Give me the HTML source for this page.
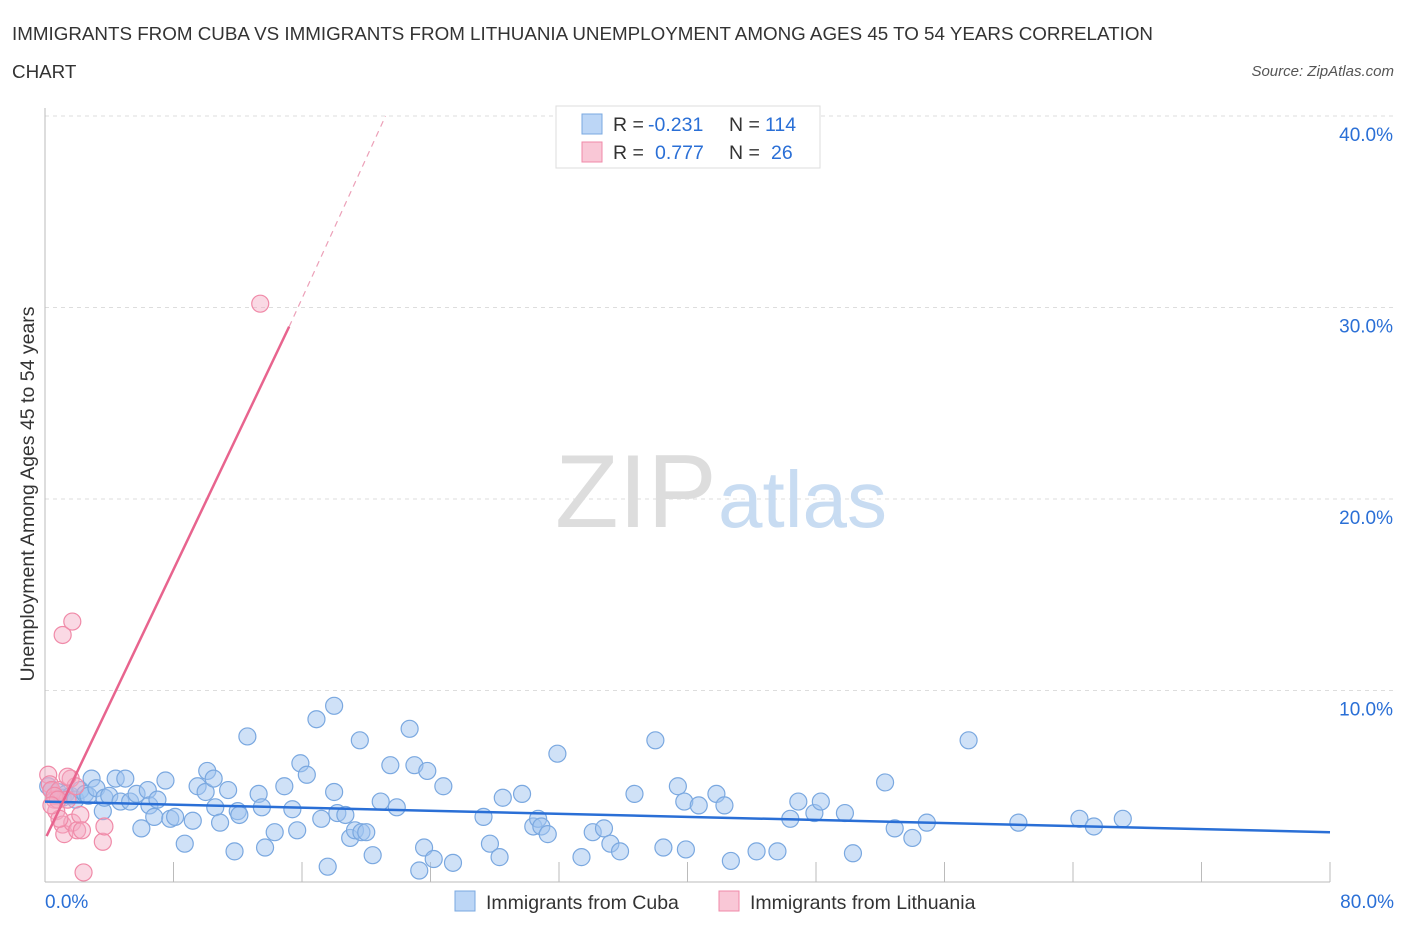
<!DOCTYPE html>
<html><head><meta charset="utf-8"><style>
body{margin:0;background:#fff;font-family:"Liberation Sans",sans-serif;}
svg text{font-family:"Liberation Sans",sans-serif;}
</style></head><body>
<svg id="c" width="1406" height="930">
<text x="12" y="40" font-size="18.8" fill="#333">IMMIGRANTS FROM CUBA VS IMMIGRANTS FROM LITHUANIA UNEMPLOYMENT AMONG AGES 45 TO 54 YEARS CORRELATION</text>
<text x="12" y="78" font-size="18.8" fill="#333">CHART</text>
<text x="1394" y="76" font-size="15" fill="#555" font-style="italic" text-anchor="end">Source: ZipAtlas.com</text>
<g id="grid"></g>
<text x="555" y="527" font-size="104" fill="#ddd" font-family="Liberation Serif">ZIP</text>
<text x="718" y="527" font-size="80" fill="#c8dcf2">atlas</text>
<g id="pts"></g>
<g id="trend"></g>
<text x="34" y="494" font-size="19.5" fill="#333" text-anchor="middle" transform="rotate(-90 34 494)">Unemployment Among Ages 45 to 54 years</text>
<g>
<rect x="556" y="106" width="264" height="62" fill="#fff" stroke="#ddd"/>
<rect x="582" y="114" width="20" height="20" fill="#bcd6f6" stroke="#7aa8e0"/>
<rect x="582" y="142" width="20" height="20" fill="#f9c7d6" stroke="#f08aa8"/>
<text x="613" y="131" font-size="19.5" fill="#333">R =</text>
<text x="648" y="131" font-size="19.5" fill="#2a6fd6">-0.231</text>
<text x="729" y="131" font-size="19.5" fill="#333">N =</text>
<text x="765" y="131" font-size="19.5" fill="#2a6fd6">114</text>
<text x="613" y="159" font-size="19.5" fill="#333">R =</text>
<text x="655" y="159" font-size="19.5" fill="#2a6fd6">0.777</text>
<text x="729" y="159" font-size="19.5" fill="#333">N =</text>
<text x="771" y="159" font-size="19.5" fill="#2a6fd6">26</text>
</g>
<g>
<rect x="455" y="891" width="20" height="20" fill="#bcd6f6" stroke="#7aa8e0"/>
<text x="486" y="909" font-size="19.5" fill="#333">Immigrants from Cuba</text>
<rect x="719" y="891" width="20" height="20" fill="#f9c7d6" stroke="#f08aa8"/>
<text x="750" y="909" font-size="19.5" fill="#333">Immigrants from Lithuania</text>
</g>
</svg>
<script>
const yTicks=[10,20,30,40];
const yTickLabels=["10.0%","20.0%","30.0%","40.0%"];
const xTicks=[0,8,16,24,32,40,48,56,64,72,80];
const cubaX=[0.2,0.4,0.6,0.8,1.1,1.3,1.6,1.9,2.2,2.5,2.7,2.9,3.2,3.6,3.7,4.0,4.4,4.7,5.0,5.3,5.7,6.0,6.4,6.5,6.8,7.0,7.5,7.8,8.1,8.7,9.2,9.5,10.0,10.1,10.5,10.6,10.9,11.4,11.8,12.0,12.1,12.6,13.3,13.5,13.7,14.3,14.9,15.4,15.7,15.9,16.3,16.9,17.2,17.6,18.0,18.0,18.2,18.7,19.0,19.3,19.6,19.7,20.0,20.4,20.9,21.5,21.9,22.7,23.0,23.3,23.6,23.8,24.2,24.8,25.4,27.3,27.7,28.3,28.5,29.7,30.4,30.7,30.9,31.3,31.9,33.4,34.1,34.8,35.2,35.8,36.7,38.0,38.5,39.4,39.8,39.9,40.7,41.8,42.3,42.7,44.3,45.6,46.4,46.9,47.9,48.3,49.8,50.3,52.3,52.9,54.0,54.9,57.5,60.6,64.4,65.3,67.1];
const cubaY=[5.0,4.8,4.5,4.7,4.4,4.6,4.5,4.3,4.8,4.6,4.5,5.4,4.9,3.7,4.4,4.5,5.4,4.2,5.4,4.2,4.6,2.8,4.8,4.0,3.4,4.3,5.3,3.3,3.4,2.0,3.2,5.0,4.7,5.8,5.4,3.9,3.1,4.8,1.6,3.7,3.5,7.6,4.6,3.9,1.8,2.6,5.0,3.8,2.7,6.2,5.6,8.5,3.3,0.8,4.7,9.2,3.6,3.5,2.3,2.7,7.4,2.6,2.6,1.4,4.2,6.1,3.9,8.0,6.1,0.6,1.8,5.8,1.2,5.0,1.0,3.4,2.0,1.3,4.4,4.6,2.9,3.3,2.9,2.5,6.7,1.3,2.6,2.8,2.0,1.6,4.6,7.4,1.8,5.0,4.2,1.7,4.0,4.6,4.0,1.1,1.6,1.6,3.3,4.2,3.6,4.2,3.6,1.5,5.2,2.8,2.3,3.1,7.4,3.1,3.3,2.9,3.3];
const lithX=[0.2,0.3,0.4,0.6,0.7,0.9,1.1,1.2,1.1,1.4,1.6,1.7,1.7,1.9,2.0,2.2,2.3,2.4,3.6,3.7,13.4,0.6,0.9,1.4,0.8,0.4];
const lithY=[5.6,5.1,4.8,4.3,3.7,4.8,3.0,2.5,12.9,4.3,5.4,3.1,13.6,5.0,2.7,3.5,2.7,0.5,2.1,2.9,30.2,4.5,3.3,5.5,4.3,4.0];
const cubaTrend=[[0,4.2],[80,2.6]];
const lithTrend=[[0.1,2.4],[15.2,29.0]];
const lithTrendDash=[[15.2,29.0],[21.2,40.0]];
const NS="http://www.w3.org/2000/svg";
const sx=v=>45+v*(1285/80);
const sy=v=>882-v*19.15;
function mk(t,a,p){const e=document.createElementNS(NS,t);for(const k in a)e.setAttribute(k,a[k]);p.appendChild(e);return e;}
const grid=document.getElementById('grid');
yTicks.forEach((t,i)=>{
 const l=mk('line',{x1:45,x2:1394,y1:sy(t),y2:sy(t),stroke:'#ddd','stroke-dasharray':'4,4'},grid);
 
 
 const tx=mk('text',{x:1393,y:sy(t)+25,'font-size':19,fill:'#2a6fd6','text-anchor':'end'},grid);
 tx.textContent=yTickLabels[i];
 
 
});
const ax=mk('line',{x1:45,x2:45,y1:108,y2:882,stroke:'#bbb'},grid);


const bx=mk('line',{x1:45,x2:1330,y1:882,y2:882,stroke:'#bbb'},grid);


xTicks.forEach(t=>{
 const l=mk('line',{x1:sx(t),x2:sx(t),y1:862,y2:882,stroke:'#bbb'},grid);
 
 
});
[[0,'0.0%','start',45],[80,'80.0%','end',1394]].forEach(d=>{
 const tx=mk('text',{x:d[3],y:908,'font-size':19,fill:'#2a6fd6','text-anchor':d[2]},grid);
 tx.textContent=d[1];
 
 
});
const pts=document.getElementById('pts');
cubaX.forEach((x,i)=>{
 const c=mk('circle',{cx:sx(x),cy:sy(cubaY[i]),r:8.5,fill:'rgba(160,196,240,0.5)',stroke:'#7aa8e0','stroke-width':1.2},pts);
 
 
});
lithX.forEach((x,i)=>{
 const c=mk('circle',{cx:sx(x),cy:sy(lithY[i]),r:8.5,fill:'rgba(245,170,195,0.45)',stroke:'#f08aa8','stroke-width':1.2},pts);
 
 
});
const tr=document.getElementById('trend');
const l1=mk('line',{x1:sx(cubaTrend[0][0]),y1:sy(cubaTrend[0][1]),x2:sx(cubaTrend[1][0]),y2:sy(cubaTrend[1][1]),stroke:'#2a6fd6','stroke-width':2.5},tr);


const l2=mk('line',{x1:sx(lithTrend[0][0]),y1:sy(lithTrend[0][1]),x2:sx(lithTrend[1][0]),y2:sy(lithTrend[1][1]),stroke:'#e8648e','stroke-width':2.5},tr);


const l3=mk('line',{x1:sx(lithTrendDash[0][0]),y1:sy(lithTrendDash[0][1]),x2:sx(lithTrendDash[1][0]),y2:sy(lithTrendDash[1][1]),stroke:'#eca0b8','stroke-width':1.2,'stroke-dasharray':'6,5'},tr);


</script>
</body></html>
